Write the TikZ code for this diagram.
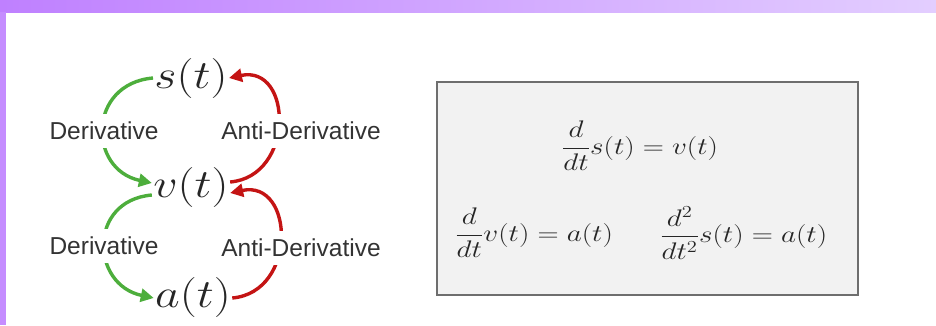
\RequirePackage{fix-cm}
\documentclass[tikz,border=0pt]{standalone}
\usepackage{amsmath}
\usepackage[no-math]{fontspec}
\setmainfont{Liberation Sans}
\usetikzlibrary{arrows.meta}
\definecolor{barL}{HTML}{BF80FF}
\definecolor{barR}{HTML}{E3CEFF}
\definecolor{grn}{HTML}{4DAE3C}
\definecolor{rd}{HTML}{C41414}
\definecolor{boxfill}{HTML}{F2F2F2}
\definecolor{boxline}{HTML}{6E6E6E}
\definecolor{txt}{HTML}{333333}
\begin{document}
\begin{tikzpicture}[x=1pt,y=1pt,
  mathnode/.style={inner sep=1pt,font=\fontsize{40}{48}\selectfont,text=black!85,xscale=1.2,transform shape},
  lbl/.style={fill=white,inner xsep=2pt,inner ysep=8pt,font=\fontsize{24.5}{28}\selectfont,text=txt},
  garc/.style={draw=grn,line width=3.4pt,-{Triangle[length=13pt,width=13pt]}},
  rarc/.style={draw=rd,line width=3.4pt,-{Triangle[length=13pt,width=13pt]}},
  eq/.style={inner sep=0pt,font=\fontsize{24}{28}\selectfont,text=black!85,xscale=1.22,transform shape}
]
\useasboundingbox (0,0) rectangle (936,325);
\fill[white] (0,0) rectangle (936,325);
\shade[left color=barL,right color=barR] (0,313) rectangle (936,325);
\fill[barL!90!white] (0,0) rectangle (6,313);

% nodes
\node[mathnode] (s) at (191,247) {$s(t)$};
\node[mathnode] (v) at (191,138) {$v(t)$};
\node[mathnode] (a) at (193,28) {$a(t)$};

% arcs
\draw[garc] ([yshift=0pt]s.west) to[out=185,in=168,looseness=1.6] ([yshift=4pt]v.west);
\draw[rarc] ([yshift=5pt]v.east) to[out=5,in=12,looseness=1.6] ([yshift=0pt]s.east);
\draw[garc] ([yshift=-8pt]v.west) to[out=185,in=168,looseness=1.6] ([yshift=-1pt]a.west);
\draw[rarc] ([yshift=-1pt]a.east) to[out=5,in=12,looseness=1.6] ([yshift=-6pt]v.east);

% labels
\node[lbl] (d1) at (104,194) {Derivative};
\node[lbl] (ad1) at (301,194) {Anti-Derivative};
\node[lbl] (d2) at (104,79) {Derivative};
\node[lbl] (ad2) at (301,77) {Anti-Derivative};

% box
\node[draw=boxline,fill=boxfill,line width=2.5pt,minimum width=421pt,minimum height=213pt,inner sep=0pt] (box) at (647.5,136.5) {};
\node[eq] (e1) at (640,179) {$\displaystyle\frac{d}{dt}s(t)=v(t)$};
\node[eq,anchor=west] (e2) at (455,92) {$\displaystyle\frac{d}{dt}v(t)=a(t)$};
\node[eq,anchor=west] (e3) at (660,92) {$\displaystyle\frac{d^2}{dt^2}s(t)=a(t)$};
\end{tikzpicture}
\end{document}
